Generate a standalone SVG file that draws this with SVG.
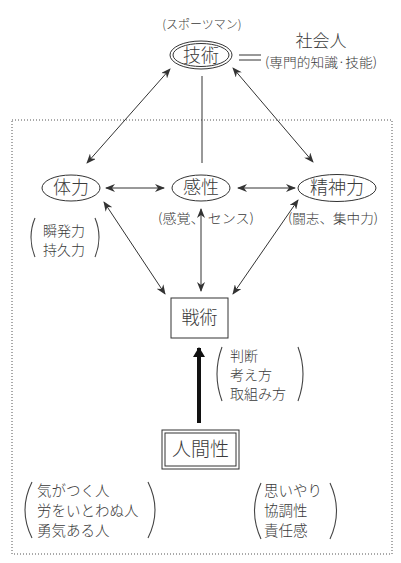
<svg xmlns="http://www.w3.org/2000/svg" width="401" height="563" viewBox="0 0 401 563">
<style>
text{font-family:"Noto Sans CJK JP","Noto Sans",sans-serif;fill:#3a3a3a;font-weight:300}
.n{font-size:18px;text-anchor:middle}
.l{font-size:14px}
.s{font-size:13px}
.shape{fill:none;stroke:#333;stroke-width:1}
.ln{fill:none;stroke:#333;stroke-width:1}
.paren{fill:none;stroke:#444;stroke-width:1.1}
</style>
<defs>
<marker id="ah" viewBox="0 0 10 8" refX="9" refY="4" markerWidth="10" markerHeight="8" markerUnits="userSpaceOnUse" orient="auto-start-reverse">
<path d="M0,0 L10,4 L0,8 L3,4 z" fill="#333"/>
</marker>
<marker id="ahb" viewBox="0 0 10 12" refX="9" refY="6" markerWidth="10" markerHeight="12" markerUnits="userSpaceOnUse" orient="auto">
<path d="M0,0 L10,6 L0,12 z" fill="#111"/>
</marker>
</defs>
<rect x="0" y="0" width="401" height="563" fill="#fff"/>
<rect x="12" y="120" width="380" height="434" fill="none" stroke="#555" stroke-width="1" stroke-dasharray="1,2"/>

<g id="connectors">
<line class="ln" x1="170" y1="69" x2="87" y2="163" marker-start="url(#ah)" marker-end="url(#ah)"/>
<line class="ln" x1="233" y1="68" x2="313" y2="162" marker-start="url(#ah)" marker-end="url(#ah)"/>
<line class="ln" x1="202" y1="76" x2="202" y2="163"/>
<line class="ln" x1="106" y1="188" x2="164" y2="188" marker-start="url(#ah)" marker-end="url(#ah)"/>
<line class="ln" x1="238" y1="188" x2="295" y2="188" marker-start="url(#ah)" marker-end="url(#ah)"/>
<line class="ln" x1="104" y1="202" x2="165" y2="294" marker-start="url(#ah)" marker-end="url(#ah)"/>
<line class="ln" x1="298" y1="200" x2="233" y2="294" marker-start="url(#ah)" marker-end="url(#ah)"/>
<line class="ln" x1="201" y1="209" x2="201" y2="291" stroke-width="1.8" marker-start="url(#ah)" marker-end="url(#ah)"/>
<line x1="199" y1="423" x2="199" y2="348" stroke="#111" stroke-width="4" marker-end="url(#ahb)"/>
</g>

<g id="gijutsu">
<ellipse class="shape" cx="201" cy="55" rx="31" ry="14"/>
<ellipse class="shape" cx="201" cy="55" rx="28" ry="11.5"/>
<text class="n" x="201" y="61.5" style="font-size:18px">技術</text>
<text class="s" x="202" y="29" text-anchor="middle" style="font-size:12px">(スポーツマン)</text>
</g>
<g id="equals">
<line class="ln" x1="239" y1="55" x2="261" y2="55" stroke-width="1.5"/>
<line class="ln" x1="239" y1="60" x2="261" y2="60" stroke-width="1.5"/>
</g>
<g id="shakaijin">
<text x="321" y="47" text-anchor="middle" style="font-size:17px">社会人</text>
<text class="s" x="321" y="67" text-anchor="middle" textLength="112" lengthAdjust="spacingAndGlyphs">(専門的知識·技能)</text>
</g>

<g id="tairyoku">
<ellipse class="shape" cx="71" cy="188" rx="29" ry="13"/>
<text class="n" x="71" y="194">体力</text>
<path class="paren" d="M35,218 Q27,237 35,257"/>
<text class="l" x="43" y="236">瞬発力</text>
<text class="l" x="43" y="255">持久力</text>
<path class="paren" d="M95,218 Q103,237 95,257"/>
</g>

<g id="kansei">
<ellipse class="shape" cx="201" cy="188" rx="29" ry="13"/>
<text class="n" x="201" y="194">感性</text>
<text class="s" x="206" y="223" text-anchor="middle" textLength="96" lengthAdjust="spacingAndGlyphs">(感覚、 センス)</text>
</g>

<g id="seishinryoku">
<ellipse class="shape" cx="337" cy="188" rx="39" ry="13.5"/>
<text class="n" x="337" y="194">精神力</text>
<text class="s" x="333" y="223" text-anchor="middle" textLength="90" lengthAdjust="spacingAndGlyphs">(闘志、集中力)</text>
</g>

<g id="senjutsu">
<rect class="shape" x="171" y="298" width="57" height="40"/>
<text class="n" x="199.5" y="324">戦術</text>
</g>

<g id="handan">
<path class="paren" d="M222,347 Q212,374 222,401"/>
<text class="l" x="230" y="361">判断</text>
<text class="l" x="230" y="380">考え方</text>
<text class="l" x="230" y="399">取組み方</text>
<path class="paren" d="M298,347 Q308,374 298,401"/>
</g>

<g id="ningensei">
<rect class="shape" x="162" y="430" width="77" height="39"/>
<rect class="shape" x="165" y="433" width="71" height="33"/>
<text class="n" x="200.5" y="456" style="font-size:19px">人間性</text>
</g>

<g id="left-traits">
<path class="paren" d="M32,482 Q18,510 32,538"/>
<text class="l" x="37" y="496" style="font-size:14.5px">気がつく人</text>
<text class="l" x="37" y="516" style="font-size:14.5px">労をいとわぬ人</text>
<text class="l" x="37" y="536" style="font-size:14.5px">勇気ある人</text>
<path class="paren" d="M148,482 Q162,510 148,538"/>
</g>

<g id="right-traits">
<path class="paren" d="M261,483 Q248,511 261,539"/>
<text class="l" x="264" y="496" style="font-size:14.5px">思いやり</text>
<text class="l" x="264" y="516" style="font-size:14.5px">協調性</text>
<text class="l" x="264" y="536" style="font-size:14.5px">責任感</text>
<path class="paren" d="M330,483 Q343,511 330,539"/>
</g>
</svg>
